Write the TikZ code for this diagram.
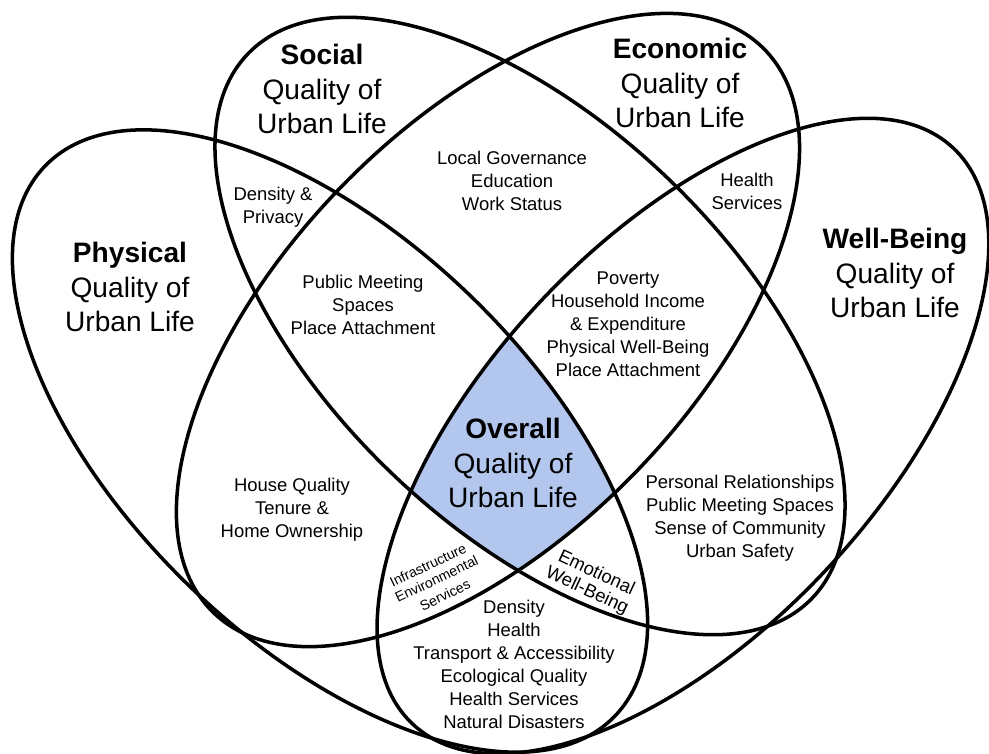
\documentclass[tikz,border=0pt]{standalone}
\usepackage{fontspec}
\setmainfont{Liberation Sans}
\definecolor{overallblue}{RGB}{178,198,238}

\begin{document}
\begin{tikzpicture}[%
% common options for the four sets:
ring/.style = {draw=black, line width=2pt},
% common options for the set titles:
title/.style = {align=center, inner sep=0, font=\fontsize{16}{19.6}\selectfont},
% common options for the overlap labels:
item/.style = {align=center, inner sep=0, font=\fontsize{10.5}{13.1}\selectfont}]
\useasboundingbox (0,0) rectangle (19.78,-15.06);
% centres of the ellipses
\coordinate (cP) at (6.60,-8.82);
\coordinate (cS) at (10.60,-6.52);
\coordinate (cE) at (9.76,-6.60);
\coordinate (cW) at (13.66,-8.72);
% shaded part shared by all four sets
\begin{scope}
\clip[rotate around={-44:(cP)}] (cP) ellipse [x radius=7.92, y radius=4.04];
\clip[rotate around={-44:(cS)}] (cS) ellipse [x radius=7.84, y radius=4.04];
\clip[rotate around={45.8:(cE)}] (cE) ellipse [x radius=7.88, y radius=4.10];
\fill[overallblue, rotate around={46.8:(cW)}] (cW) ellipse [x radius=7.90, y radius=3.92];
\end{scope}
\draw[ring, rotate around={-44:(cP)}] (cP) ellipse [x radius=7.92, y radius=4.04];
\draw[ring, rotate around={-44:(cS)}] (cS) ellipse [x radius=7.84, y radius=4.04];
\draw[ring, rotate around={45.8:(cE)}] (cE) ellipse [x radius=7.88, y radius=4.10];
\draw[ring, rotate around={46.8:(cW)}] (cW) ellipse [x radius=7.90, y radius=3.92];
% set titles
\node[title] (P0) at (2.60,-5.74) {\textbf{Physical}\\Quality of\\Urban Life};
\node[title] (S0) at (6.44,-1.78) {\textbf{Social}\\Quality of\\Urban Life};
\node[title] (E0) at (13.60,-1.66) {\textbf{Economic}\\Quality of\\Urban Life};
\node[title] (W0) at (17.90,-5.46) {\textbf{Well-Being}\\Quality of\\Urban Life};
\node[title] (O0) at (10.26,-9.26) {\textbf{Overall}\\Quality of\\Urban Life};
% overlaps
\node[item] (PS) at (5.46,-4.14) {Density \&\\Privacy};
\node[item] (SE) at (10.24,-3.62) {Local Governance\\Education\\Work Status};
\node[item] (EW) at (14.94,-3.82) {Health\\Services};
\node[item] (PSE) at (7.26,-6.10) {Public Meeting\\Spaces\\Place Attachment};
\node[item] (SEW) at (12.56,-6.48) {Poverty\\Household Income\\\& Expenditure\\Physical Well-Being\\Place Attachment};
\node[item] (PE) at (5.84,-10.20) {House Quality\\Tenure \&\\Home Ownership};
\node[item] (SW) at (14.80,-10.36) {Personal Relationships\\Public Meeting Spaces\\Sense of Community\\Urban Safety};
\node[item] (PW) at (10.28,-13.28) {Density\\Health\\Transport \& Accessibility\\Ecological Quality\\Health Services\\Natural Disasters};
% tilted labels, one line each
\node[item, font=\fontsize{8}{9.5}\selectfont, rotate=25.6] (PEW1) at (8.56,-11.30) {Infrastructure};
\node[item, font=\fontsize{8}{9.5}\selectfont, rotate=25.6] (PEW2) at (8.73,-11.58) {Environmental};
\node[item, font=\fontsize{8}{9.5}\selectfont, rotate=25.6] (PEW3) at (8.90,-11.90) {Services};
\node[item, rotate=-25] (PSW1) at (11.94,-11.44) {Emotional};
\node[item, rotate=-25] (PSW2) at (11.74,-11.82) {Well-Being};
\end{tikzpicture}
\end{document}
